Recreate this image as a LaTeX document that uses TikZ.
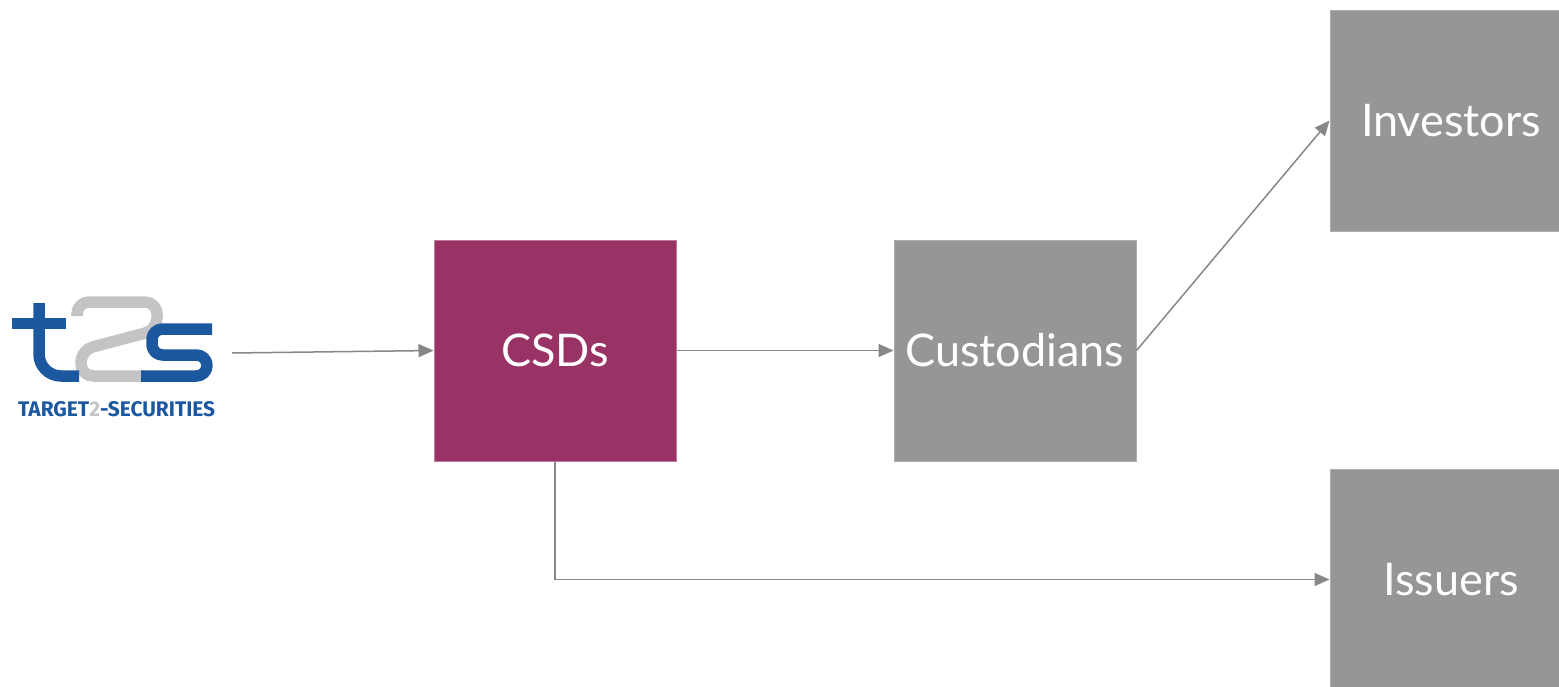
\documentclass[tikz,border=0pt]{standalone}
\usepackage{fontspec}
\setmainfont{Lato}
\usetikzlibrary{arrows.meta}
\definecolor{csd}{RGB}{153,51,102}
\definecolor{csdedge}{RGB}{190,120,155}
\definecolor{boxgray}{RGB}{150,150,150}
\definecolor{boxedge}{RGB}{175,175,175}
\definecolor{arrowgray}{RGB}{135,135,135}
\definecolor{t2blue}{RGB}{28,88,160}
\definecolor{t2gray}{RGB}{196,196,198}
\tikzset{
  entity/.style={rectangle, minimum width=242pt, minimum height=221pt, inner sep=0pt,
    text=white, font=\fontsize{45}{50}\selectfont, line width=1pt},
  graybox/.style={entity, fill=boxgray, draw=boxedge},
  csdbox/.style={entity, fill=csd, draw=csdedge},
  flow/.style={draw=arrowgray, line width=1.5pt, -{Triangle[length=15pt,width=13pt]}},
  logostroke/.style={line width=11.5pt, line cap=butt, line join=round}
}
\begin{document}
\begin{tikzpicture}[x=1pt,y=-1pt]
\useasboundingbox (0,0) rectangle (1559,686);
\clip (0,0) rectangle (1559,686);
\fill[white] (0,0) rectangle (1559,686);
% logo
\draw[logostroke, t2gray, rounded corners=12] (77,316) -- (77,302) -- (157,302) -- (157,330) -- (81,350) -- (81,376) -- (145,376);
\draw[logostroke, t2blue] (12,323.5) -- (66,323.5);
\draw[logostroke, t2blue, rounded corners=22] (39,303) -- (39,376) -- (79,376);
\draw[logostroke, t2blue, rounded corners=10.5] (212,329) -- (152,329) -- (152,355) -- (207,355) -- (207,376) -- (141,376);
\node[anchor=base west, inner sep=0pt, text=t2blue] (logotext) at (18,416)
  {\resizebox{197pt}{15pt}{\fontspec{Fira Sans}\bfseries TARGET\textcolor{t2gray}{2}-SECURITIES}};
\coordinate (logo) at (232,353);
% boxes
\node[csdbox] (CSDs) at (555,350.5) {CSDs};
\node[graybox] (Cust) at (1015,350.5) {Custodians};
\node[graybox] (Inv) at (1451,120.5) {Investors};
\node[graybox] (Iss) at (1451,579.5) {Issuers};
% connectors
\draw[flow] (logo) -- (CSDs.west);
\draw[flow] (CSDs.east) -- (Cust.west);
\draw[flow] (Cust.east) -- (Inv.west);
\draw[flow] (CSDs.south) |- (Iss.west);
\end{tikzpicture}
\end{document}
